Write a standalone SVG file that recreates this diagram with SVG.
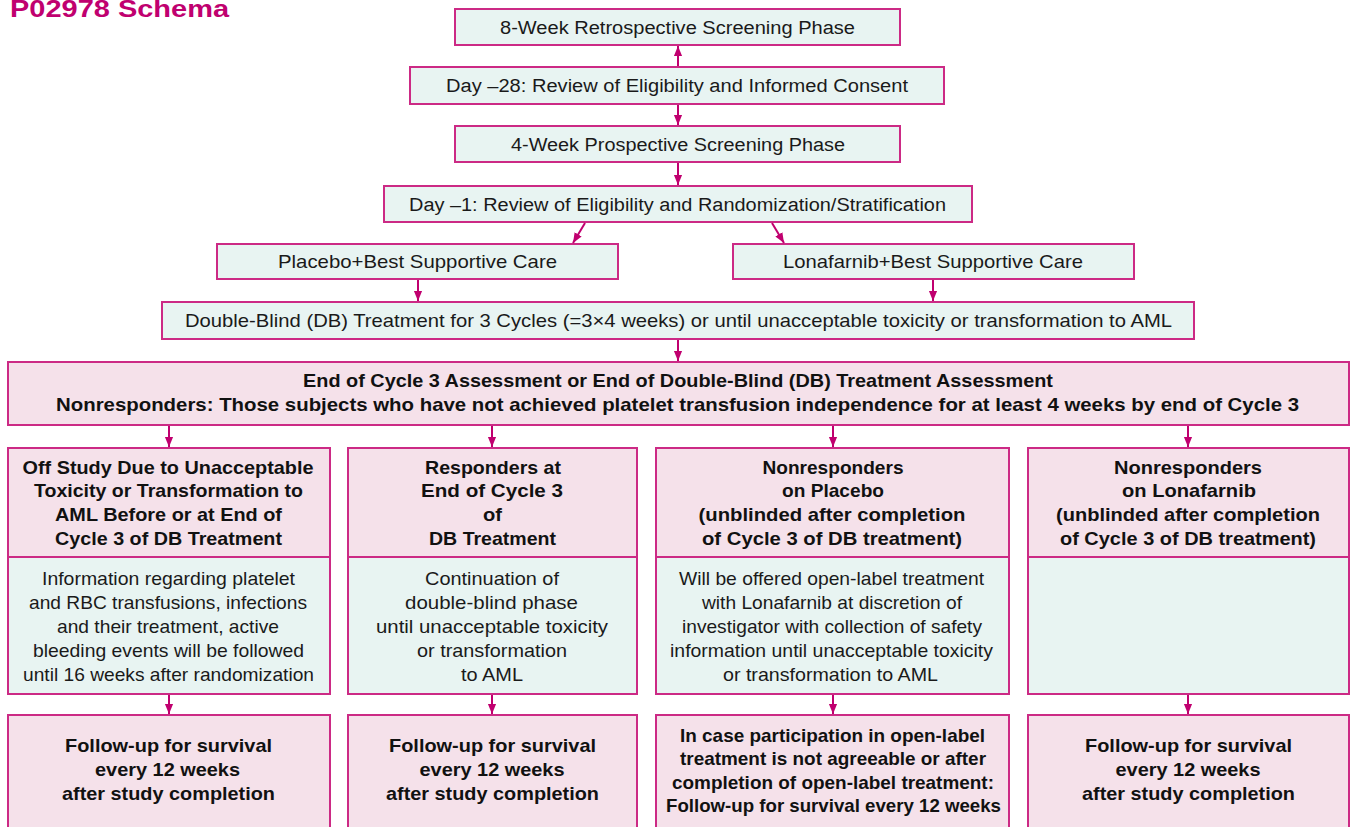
<svg xmlns="http://www.w3.org/2000/svg" width="1352" height="827" viewBox="0 0 1352 827">
<style>
.g{fill:#e8f4f2;stroke:#cc2a85;stroke-width:2}
.p{fill:#f5e1ea;stroke:#cc2a85;stroke-width:2}
.t{font-family:"Liberation Sans",Arial,sans-serif;font-size:18px;fill:#1a1a1a;text-anchor:middle}
.c{font-family:"Liberation Sans",Arial,sans-serif;font-size:19px;fill:#1a1a1a;text-anchor:middle}
.b{font-family:"Liberation Sans",Arial,sans-serif;font-size:19px;font-weight:bold;fill:#111;text-anchor:middle}
.ln{stroke:#c0006f;stroke-width:2;fill:none;marker-end:url(#ah)}
</style>
<defs>
<marker id="ah" markerUnits="userSpaceOnUse" markerWidth="10" markerHeight="11" viewBox="0 0 11 10" refX="11" refY="5" orient="auto">
<path d="M0,0.5 L11,5 L0,9.5 Z" fill="#c0006f"/>
</marker>
</defs>
<rect width="1352" height="827" fill="#ffffff"/>
<text x="10" y="17" font-family="Liberation Sans,Arial,sans-serif" font-size="24" font-weight="bold" fill="#c0006f" textLength="219" lengthAdjust="spacingAndGlyphs">P02978 Schema</text>

<g id="n1"><rect class="g" x="455" y="9" width="445" height="36"/><text class="t" x="677.5" y="34" textLength="355" lengthAdjust="spacingAndGlyphs">8-Week Retrospective Screening Phase</text></g>
<g id="n2"><rect class="g" x="410" y="67" width="534" height="37"/><text class="t" x="677" y="92" textLength="462" lengthAdjust="spacingAndGlyphs">Day –28: Review of Eligibility and Informed Consent</text></g>
<g id="n3"><rect class="g" x="455" y="126" width="445" height="36"/><text class="t" x="678" y="151" textLength="334" lengthAdjust="spacingAndGlyphs">4-Week Prospective Screening Phase</text></g>
<g id="n4"><rect class="g" x="384" y="186" width="588" height="36"/><text class="t" x="677.5" y="211" textLength="537" lengthAdjust="spacingAndGlyphs">Day –1: Review of Eligibility and Randomization/Stratification</text></g>
<g id="n5"><rect class="g" x="217" y="244" width="401" height="35"/><text class="c" x="417.5" y="268" textLength="279" lengthAdjust="spacingAndGlyphs">Placebo+Best Supportive Care</text></g>
<g id="n6"><rect class="g" x="733" y="244" width="401" height="35"/><text class="c" x="933" y="268" textLength="300" lengthAdjust="spacingAndGlyphs">Lonafarnib+Best Supportive Care</text></g>
<g id="n7"><rect class="g" x="162" y="302" width="1032" height="37"/><text class="c" x="678.5" y="327" textLength="987" lengthAdjust="spacingAndGlyphs">Double-Blind (DB) Treatment for 3 Cycles (=3×4 weeks) or until unacceptable toxicity or transformation to AML</text></g>
<g id="n8"><rect class="p" x="8" y="362" width="1341" height="63"/>
<text class="b" x="678" y="387" textLength="750" lengthAdjust="spacingAndGlyphs">End of Cycle 3 Assessment or End of Double-Blind (DB) Treatment Assessment</text>
<text class="b" x="677.5" y="411" textLength="1243" lengthAdjust="spacingAndGlyphs">Nonresponders: Those subjects who have not achieved platelet transfusion independence for at least 4 weeks by end of Cycle 3</text></g>

<g id="col1">
<rect class="p" x="8" y="448" width="322" height="109"/>
<text class="b" x="168" y="474" textLength="291" lengthAdjust="spacingAndGlyphs">Off Study Due to Unacceptable</text>
<text class="b" x="168.5" y="497" textLength="269" lengthAdjust="spacingAndGlyphs">Toxicity or Transformation to</text>
<text class="b" x="168.5" y="521" textLength="227" lengthAdjust="spacingAndGlyphs">AML Before or at End of</text>
<text class="b" x="168.5" y="545" textLength="227" lengthAdjust="spacingAndGlyphs">Cycle 3 of DB Treatment</text>
<rect class="g" x="8" y="557" width="322" height="137"/>
<text class="c" x="168.5" y="585" textLength="253" lengthAdjust="spacingAndGlyphs">Information regarding platelet</text>
<text class="c" x="168" y="609" textLength="278" lengthAdjust="spacingAndGlyphs">and RBC transfusions, infections</text>
<text class="c" x="168" y="633" textLength="222" lengthAdjust="spacingAndGlyphs">and their treatment, active</text>
<text class="c" x="168.5" y="657" textLength="271" lengthAdjust="spacingAndGlyphs">bleeding events will be followed</text>
<text class="c" x="168.5" y="681" textLength="291" lengthAdjust="spacingAndGlyphs">until 16 weeks after randomization</text>
</g>
<g id="col1f">
<rect class="p" x="8" y="715" width="322" height="120"/>
<text class="b" x="168.5" y="752" textLength="207" lengthAdjust="spacingAndGlyphs">Follow-up for survival</text>
<text class="b" x="167.5" y="776" textLength="145" lengthAdjust="spacingAndGlyphs">every 12 weeks</text>
<text class="b" x="168.5" y="800" textLength="213" lengthAdjust="spacingAndGlyphs">after study completion</text>
</g>

<g id="col2">
<rect class="p" x="348" y="448" width="289" height="109"/>
<text class="b" x="493" y="474" textLength="136" lengthAdjust="spacingAndGlyphs">Responders at</text>
<text class="b" x="492" y="497" textLength="142" lengthAdjust="spacingAndGlyphs">End of Cycle  3</text>
<text class="b" x="492.5" y="521" textLength="19" lengthAdjust="spacingAndGlyphs">of</text>
<text class="b" x="492.5" y="545" textLength="127" lengthAdjust="spacingAndGlyphs">DB Treatment</text>
<rect class="g" x="348" y="557" width="289" height="137"/>
<text class="c" x="492" y="585" textLength="134" lengthAdjust="spacingAndGlyphs">Continuation of</text>
<text class="c" x="491.5" y="609" textLength="173" lengthAdjust="spacingAndGlyphs">double-blind phase</text>
<text class="c" x="492" y="633" textLength="232" lengthAdjust="spacingAndGlyphs">until unacceptable toxicity</text>
<text class="c" x="492" y="657" textLength="150" lengthAdjust="spacingAndGlyphs">or transformation</text>
<text class="c" x="492" y="681" textLength="62" lengthAdjust="spacingAndGlyphs">to AML</text>
</g>
<g id="col2f">
<rect class="p" x="348" y="715" width="289" height="120"/>
<text class="b" x="492.5" y="752" textLength="207" lengthAdjust="spacingAndGlyphs">Follow-up for survival</text>
<text class="b" x="492" y="776" textLength="145" lengthAdjust="spacingAndGlyphs">every 12 weeks</text>
<text class="b" x="492.5" y="800" textLength="213" lengthAdjust="spacingAndGlyphs">after study completion</text>
</g>

<g id="col3">
<rect class="p" x="656" y="448" width="353" height="109"/>
<text class="b" x="833" y="474" textLength="141" lengthAdjust="spacingAndGlyphs">Nonresponders</text>
<text class="b" x="833" y="497" textLength="102" lengthAdjust="spacingAndGlyphs">on Placebo</text>
<text class="b" x="832" y="521" textLength="267" lengthAdjust="spacingAndGlyphs">(unblinded after completion</text>
<text class="b" x="832" y="545" textLength="260" lengthAdjust="spacingAndGlyphs">of Cycle 3 of DB treatment)</text>
<rect class="g" x="656" y="557" width="353" height="137"/>
<text class="c" x="831.5" y="585" textLength="305" lengthAdjust="spacingAndGlyphs">Will be offered open-label treatment</text>
<text class="c" x="832" y="609" textLength="260" lengthAdjust="spacingAndGlyphs">with Lonafarnib at discretion of</text>
<text class="c" x="832" y="633" textLength="300" lengthAdjust="spacingAndGlyphs">investigator with collection of safety</text>
<text class="c" x="831.5" y="657" textLength="323" lengthAdjust="spacingAndGlyphs">information until unacceptable toxicity</text>
<text class="c" x="830.5" y="681" textLength="215" lengthAdjust="spacingAndGlyphs">or transformation to AML</text>
</g>
<g id="col3f">
<rect class="p" x="656" y="715" width="353" height="120"/>
<text class="b" x="832.5" y="742" textLength="305" lengthAdjust="spacingAndGlyphs">In case participation in open-label</text>
<text class="b" x="833" y="765" textLength="306" lengthAdjust="spacingAndGlyphs">treatment is not agreeable or after</text>
<text class="b" x="833" y="789" textLength="322" lengthAdjust="spacingAndGlyphs">completion of open-label treatment:</text>
<text class="b" x="833.5" y="812" textLength="335" lengthAdjust="spacingAndGlyphs">Follow-up for survival every 12 weeks</text>
</g>

<g id="col4">
<rect class="p" x="1028" y="448" width="321" height="109"/>
<text class="b" x="1188" y="474" textLength="148" lengthAdjust="spacingAndGlyphs">Nonresponders</text>
<text class="b" x="1189" y="497" textLength="134" lengthAdjust="spacingAndGlyphs">on Lonafarnib</text>
<text class="b" x="1188" y="521" textLength="264" lengthAdjust="spacingAndGlyphs">(unblinded after completion</text>
<text class="b" x="1188" y="545" textLength="256" lengthAdjust="spacingAndGlyphs">of Cycle 3 of DB treatment)</text>
<rect class="g" x="1028" y="557" width="321" height="137"/>
</g>
<g id="col4f">
<rect class="p" x="1028" y="715" width="321" height="120"/>
<text class="b" x="1188.5" y="752" textLength="207" lengthAdjust="spacingAndGlyphs">Follow-up for survival</text>
<text class="b" x="1188" y="776" textLength="145" lengthAdjust="spacingAndGlyphs">every 12 weeks</text>
<text class="b" x="1188.5" y="800" textLength="213" lengthAdjust="spacingAndGlyphs">after study completion</text>
</g>

<g id="connectors">
<line class="ln" x1="678" y1="66" x2="678" y2="46"/>
<line class="ln" x1="678" y1="105" x2="678" y2="125"/>
<line class="ln" x1="678" y1="163" x2="678" y2="185"/>
<line class="ln" x1="585" y1="223" x2="573" y2="243"/>
<line class="ln" x1="772" y1="223" x2="784" y2="243"/>
<line class="ln" x1="418" y1="280" x2="418" y2="301"/>
<line class="ln" x1="933" y1="280" x2="933" y2="301"/>
<line class="ln" x1="678" y1="340" x2="678" y2="361"/>
<line class="ln" x1="169" y1="426" x2="169" y2="447"/>
<line class="ln" x1="492" y1="426" x2="492" y2="447"/>
<line class="ln" x1="833" y1="426" x2="833" y2="447"/>
<line class="ln" x1="1188" y1="426" x2="1188" y2="447"/>
<line class="ln" x1="169" y1="695" x2="169" y2="714"/>
<line class="ln" x1="492" y1="695" x2="492" y2="714"/>
<line class="ln" x1="833" y1="695" x2="833" y2="714"/>
<line class="ln" x1="1188" y1="695" x2="1188" y2="714"/>
</g>
</svg>
